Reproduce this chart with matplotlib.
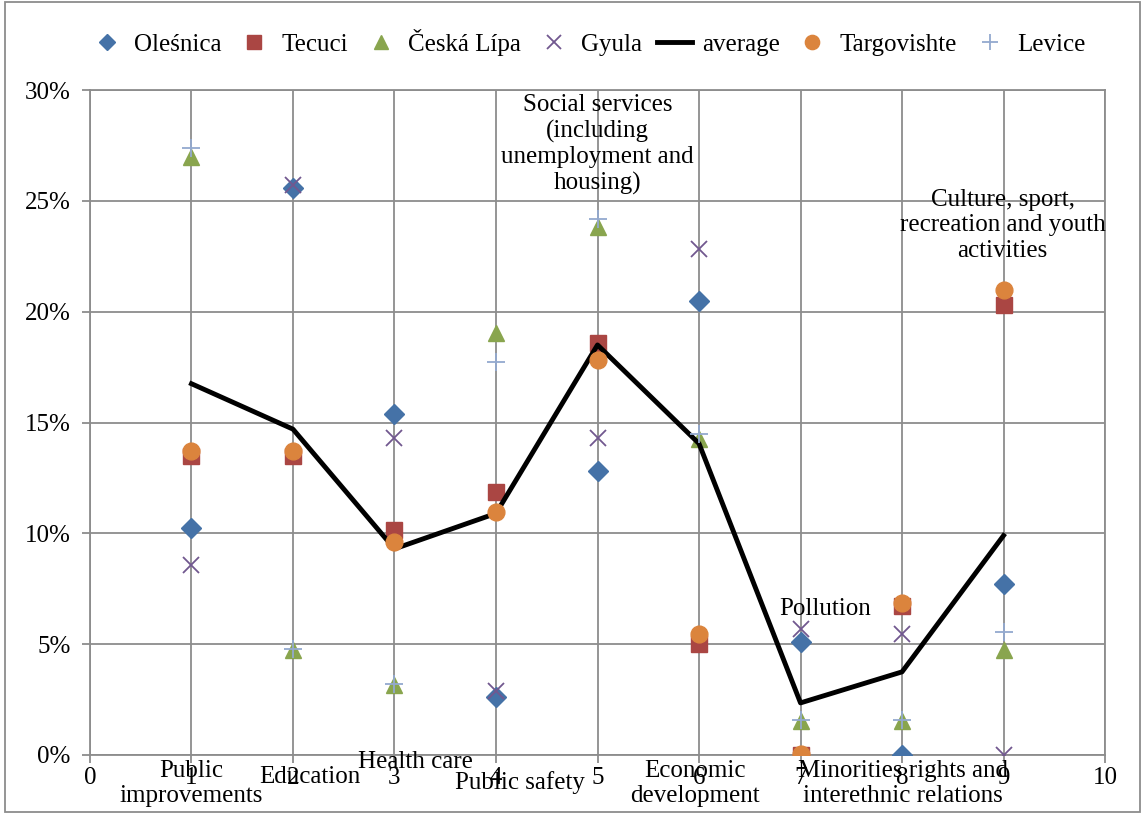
import matplotlib
matplotlib.use("Agg")
import matplotlib.pyplot as plt
from matplotlib.ticker import FuncFormatter
from matplotlib.patches import Rectangle

plt.rcParams['font.family'] = ['Liberation Serif', 'DejaVu Serif']

positions = [1, 2, 3, 4, 5, 6, 7, 8, 9]
categories = ["Public\nimprovements", "Education", "Health care", "Public safety",
              "Social services\n(including\nunemployment and\nhousing)",
              "Economic\ndevelopment", "Pollution",
              "Minorities rights and\ninterethnic relations",
              "Culture, sport,\nrecreation and youth\nactivities"]

olesnica = [10.25, 25.6, 15.4, 2.6, 12.8, 20.5, 5.1, 0.0, 7.7]
tecuci = [13.5, 13.5, 10.15, 11.85, 18.6, 5.0, 0.0, 6.7, 20.3]
ceska_lipa = [27.0, 4.75, 3.15, 19.05, 23.8, 14.25, 1.55, 1.55, 4.75]
gyula = [8.55, 25.7, 14.3, 2.9, 14.3, 22.85, 5.7, 5.45, 0.0]
average = [16.75, 14.7, 9.3, 10.9, 18.5, 14.05, 2.35, 3.75, 9.9]
targovishte = [13.7, 13.7, 9.6, 10.95, 17.8, 5.45, 0.05, 6.85, 21.0]
levice = [27.4, 4.8, 3.2, 17.75, 24.2, 14.5, 1.6, 1.6, 5.55]

# where the category labels sit, in data units
label_pos = [(1.0, -1.3), (2.17, -1.0), (3.21, -0.3), (4.24, -1.26), (5.0, 27.55),
             (5.96, -1.3), (7.24, 6.6), (8.01, -1.3), (8.99, 23.9)]

fig = plt.figure(figsize=(11.43, 8.14), dpi=100)
ax = fig.add_axes([0.0787, 0.0725, 0.8881, 0.8169])

ms = 11.5
ax.plot(positions, olesnica, linestyle='None', marker='D', ms=ms * 0.85, color='#4572A7', label='Oleśnica', zorder=3)
ax.plot(positions, tecuci, linestyle='None', marker='s', ms=ms, color='#AA4643', label='Tecuci', zorder=3)
ax.plot(positions, ceska_lipa, linestyle='None', marker='^', ms=ms * 1.05, color='#89A54E', label='Česká Lípa', zorder=3)
ax.plot(positions, gyula, linestyle='None', marker='x', ms=ms, mew=1.3, color='#71588F', label='Gyula', zorder=3)
ax.plot(positions, average, color='black', lw=3.5, label='average', zorder=4)
ax.plot(positions, targovishte, linestyle='None', marker='o', ms=ms * 1.05, color='#DB843D', label='Targovishte', zorder=5)
ax.plot(positions, levice, linestyle='None', marker='+', ms=ms * 1.15, mew=1.3, color='#93A9CF', label='Levice', zorder=5)

for i, txt in enumerate(categories):
    ax.text(label_pos[i][0], label_pos[i][1], txt, ha='center', va='center',
            fontsize=18, linespacing=1.2, zorder=6, clip_on=False)

ax.set_xlim(0, 10)
ax.set_ylim(0, 30)
ax.set_xticks(range(0, 11))
ax.set_yticks(range(0, 31, 5))
ax.yaxis.set_major_formatter(FuncFormatter(lambda v, p: '%d%%' % v))
ax.grid(True, color='#8c8c8c', lw=1.3)
ax.set_axisbelow(True)
for s in ax.spines.values():
    s.set_color('#8c8c8c')
    s.set_linewidth(1.3)
ax.tick_params(axis='both', labelsize=18, color='#8c8c8c', length=6, width=1.3)
ax.tick_params(axis='y', pad=8)
ax.tick_params(axis='x', pad=3)

ax.legend(loc='center', bbox_to_anchor=(0.49, 1.072), ncol=7, frameon=False,
          fontsize=18, handlelength=1.4, handletextpad=0.4, columnspacing=0.6,
          borderaxespad=0, markerscale=0.85)

fig.patches.append(Rectangle((0.004, 0.003), 0.993, 0.994, transform=fig.transFigure,
                             fill=False, edgecolor='#8c8c8c', lw=1.3))

fig.savefig('out.png', dpi=100)
